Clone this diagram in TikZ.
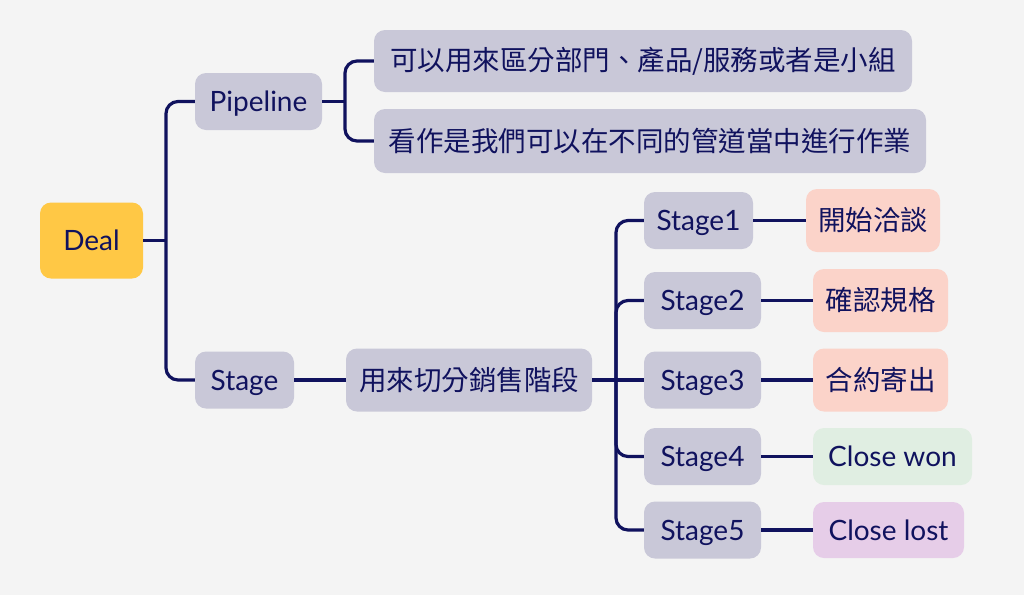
\documentclass[tikz,border=0pt]{standalone}
\usepackage{fontspec}
\setmainfont{Lato}
\newfontfamily\cjk{Noto Sans CJK TC}
\definecolor{bg}{HTML}{F4F4F4}
\definecolor{navy}{HTML}{10125E}
\definecolor{graybox}{HTML}{C9C8D8}
\definecolor{yellowbox}{HTML}{FFC845}
\definecolor{salmon}{HTML}{FBD3C9}
\definecolor{greenbox}{HTML}{E0EEE2}
\definecolor{purplebox}{HTML}{E6CDE8}
\tikzset{
  box/.style={rounded corners=11pt, inner sep=0pt, text=navy, align=center,
    font=\fontsize{28}{32}\selectfont, text height=20pt, text depth=0pt},
  cjkbox/.style={rounded corners=11pt, inner sep=0pt, text=navy, align=center,
    font=\cjk\fontsize{27.5}{32}\selectfont},
  conn/.style={draw=navy, line width=3.2pt, rounded corners=12pt}
}
\begin{document}
\begin{tikzpicture}[x=1pt,y=-1pt]
\fill[bg] (0,0) rectangle (1024,595);
\useasboundingbox (0,0) rectangle (1024,595);

\node[box, fill=yellowbox, minimum width=103pt, minimum height=76pt] (deal) at (91.5,240.5) {Deal};
\node[box, fill=graybox, minimum width=127pt, minimum height=57pt] (pipe) at (258.5,101.5) {Pipeline};
\node[box, fill=graybox, minimum width=99pt, minimum height=57pt] (stage) at (244.5,380) {Stage};

\node[cjkbox, fill=graybox, minimum width=538pt, minimum height=62pt] (p1) at (643,61) {可以用來區分部門、產品/服務或者是小組};
\node[cjkbox, fill=graybox, minimum width=552pt, minimum height=64pt] (p2) at (650,141) {看作是我們可以在不同的管道當中進行作業};

\node[cjkbox, fill=graybox, minimum width=246pt, minimum height=63pt] (sales) at (469,380) {用來切分銷售階段};

\node[box, fill=graybox, minimum width=109pt, minimum height=57pt] (s1) at (698.5,220.5) {Stage1};
\node[box, fill=graybox, minimum width=117pt, minimum height=57pt] (s2) at (702.5,300.5) {Stage2};
\node[box, fill=graybox, minimum width=117pt, minimum height=57pt] (s3) at (702.5,380) {Stage3};
\node[box, fill=graybox, minimum width=117pt, minimum height=57pt] (s4) at (702.5,456.5) {Stage4};
\node[box, fill=graybox, minimum width=117pt, minimum height=57pt] (s5) at (702.5,530) {Stage5};

\node[cjkbox, fill=salmon, minimum width=134pt, minimum height=63pt] (l1) at (873,220.5) {開始洽談};
\node[cjkbox, fill=salmon, minimum width=135pt, minimum height=63pt] (l2) at (880.5,300.5) {確認規格};
\node[cjkbox, fill=salmon, minimum width=135pt, minimum height=63pt] (l3) at (880.5,380) {合約寄出};
\node[box, fill=greenbox, minimum width=159pt, minimum height=57pt] (l4) at (892.5,456.5) {Close won};
\node[box, fill=purplebox, minimum width=151pt, minimum height=56pt] (l5) at (888.5,530) {Close lost};

\coordinate (t) at (166,240.5);
\coordinate (pb) at (345,101.5);
\coordinate (sb) at (616,380);

\draw[conn] (deal.east) -- (t);
\draw[conn] (pipe.west) -| (t) |- (stage.west);
\draw[conn] (pipe.east) -- (pb);
\draw[conn] (p1.west) -| (pb) |- (p2.west);
\draw[conn] (stage.east) -- (sales.west);
\draw[conn] (sales.east) -- (s3.west);
\draw[conn] (s1.west) -| (sb) |- (s5.west);
\draw[conn] (s2.west) -| (sb);
\draw[conn] (s4.west) -| (sb);
\draw[conn] (s1.east) -- (l1.west);
\draw[conn] (s2.east) -- (l2.west);
\draw[conn] (s3.east) -- (l3.west);
\draw[conn] (s4.east) -- (l4.west);
\draw[conn] (s5.east) -- (l5.west);
\end{tikzpicture}
\end{document}
